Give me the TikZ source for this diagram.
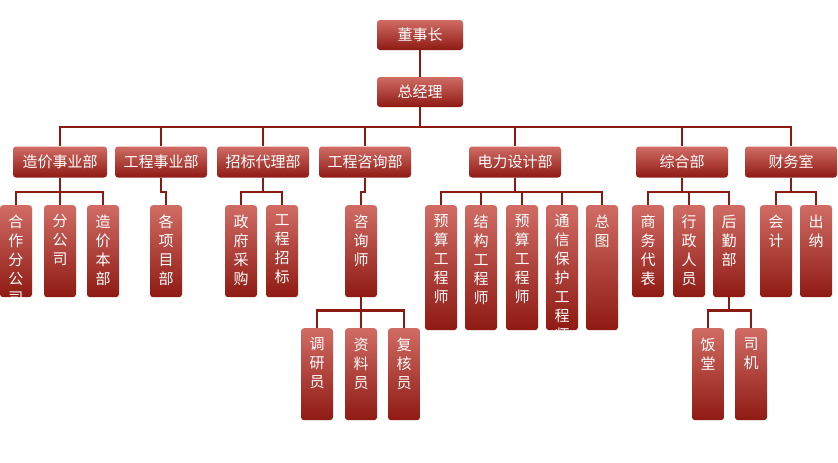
\documentclass[tikz,border=0pt]{standalone}
\usepackage{fontspec}
\newfontfamily\cjk{Noto Sans CJK SC}
\usetikzlibrary{positioning,calc}
\definecolor{boxtop}{HTML}{D06C64}
\definecolor{boxbot}{HTML}{8E1A13}
\definecolor{linered}{HTML}{8B1A10}

\tikzset{
    box/.style={rounded corners=3pt, top color=boxtop, bottom color=boxbot, draw=none,
        text=white, font=\cjk\fontsize{15}{19}\selectfont, inner sep=0pt},
    hbox/.style={box, minimum width=88pt, minimum height=31pt},
    vbox/.style={box, minimum width=32pt, minimum height=#1, anchor=north},
    vtext/.style={text=white, font=\cjk\fontsize{15}{19}\selectfont, align=center, anchor=north},
    link/.style={draw=linered, line width=2.2pt}
}
% vertical box: name, x, top y, height, text
\newcommand{\vnode}[5]{%
    \node (#1) [vbox=#4pt] at (#2,#3) {};
    \node (#1t) [vtext] at ($(#1.north)+(0,6)$) {#5};
}

\begin{document}
\begin{tikzpicture}[x=1pt, y=-1pt]
    \useasboundingbox (0,0) rectangle (838,463);
    % top
    \node (dsz) [hbox, minimum width=86pt, minimum height=30pt] at (420,35) {董事长};
    \node (zjl) [hbox, minimum width=86pt, minimum height=30pt] at (420,92) {总经理};
    % departments
    \node (zj) [hbox, minimum width=94pt] at (60,162) {造价事业部};
    \node (gc) [hbox, minimum width=92pt] at (161,162) {工程事业部};
    \node (zb) [hbox, minimum width=92pt] at (263,162) {招标代理部};
    \node (zx) [hbox, minimum width=92pt] at (365,162) {工程咨询部};
    \node (dl) [hbox, minimum width=92pt] at (515,162) {电力设计部};
    \node (zh) [hbox, minimum width=92pt] at (682,162) {综合部};
    \node (cw) [hbox, minimum width=92pt] at (791,162) {财务室};

    \vnode{hzfgs}{16}{205}{92}{合\\作\\分\\公\\司}
    \vnode{fgs}{60}{205}{92}{分\\公\\司}
    \vnode{zjbb}{103}{205}{92}{造\\价\\本\\部}
    \vnode{gxmb}{166}{205}{92}{各\\项\\目\\部}
    \vnode{zfcg}{241}{205}{92}{政\\府\\采\\购}
    \vnode{gczb}{282}{205}{92}{工\\程\\招\\标}
    \vnode{zxs}{361}{205}{92}{咨\\询\\师}
    \vnode{ysgcs}{441}{205}{125}{预\\算\\工\\程\\师}
    \vnode{jggcs}{481}{205}{125}{结\\构\\工\\程\\师}
    \vnode{ysgcsb}{522}{205}{125}{预\\算\\工\\程\\师}
    \vnode{txbh}{562}{205}{125}{通\\信\\保\\护\\工\\程\\师}
    \vnode{zt}{602}{205}{125}{总\\图}
    \vnode{swdb}{648}{205}{92}{商\\务\\代\\表}
    \vnode{xzry}{689}{205}{92}{行\\政\\人\\员}
    \vnode{hqb}{729}{205}{92}{后\\勤\\部}
    \vnode{kj}{776}{205}{92}{会\\计}
    \vnode{cn}{816}{205}{92}{出\\纳}
    % fourth level
    \vnode{dyy}{317}{328}{92}{调\\研\\员}
    \vnode{zly}{361}{328}{92}{资\\料\\员}
    \vnode{fhy}{404}{328}{92}{复\\核\\员}
    \vnode{ft}{708}{328}{92}{饭\\堂}
    \vnode{sj}{751}{328}{92}{司\\机}

    \draw [link] (dsz) -- (zjl);
    \foreach \d in {zj,gc,zb,zx,dl,zh,cw}
        \draw [link] (zjl.south) -- ++(0,20) -| (\d.north);
    \foreach \p/\c in {zj/hzfgs, zj/fgs, zj/zjbb, gc/gxmb, zb/zfcg, zb/gczb, zx/zxs,
        dl/ysgcs, dl/jggcs, dl/ysgcsb, dl/txbh, dl/zt, zh/swdb, zh/xzry, zh/hqb, cw/kj, cw/cn}
        \draw [link] (\p.south) -- ++(0,14) -| (\c.north);
    \foreach \p/\c in {zxs/dyy, zxs/zly, zxs/fhy, hqb/ft, hqb/sj}
        \draw [link] (\p.south) -- ++(0,13) -| (\c.north);
\end{tikzpicture}
\end{document}
